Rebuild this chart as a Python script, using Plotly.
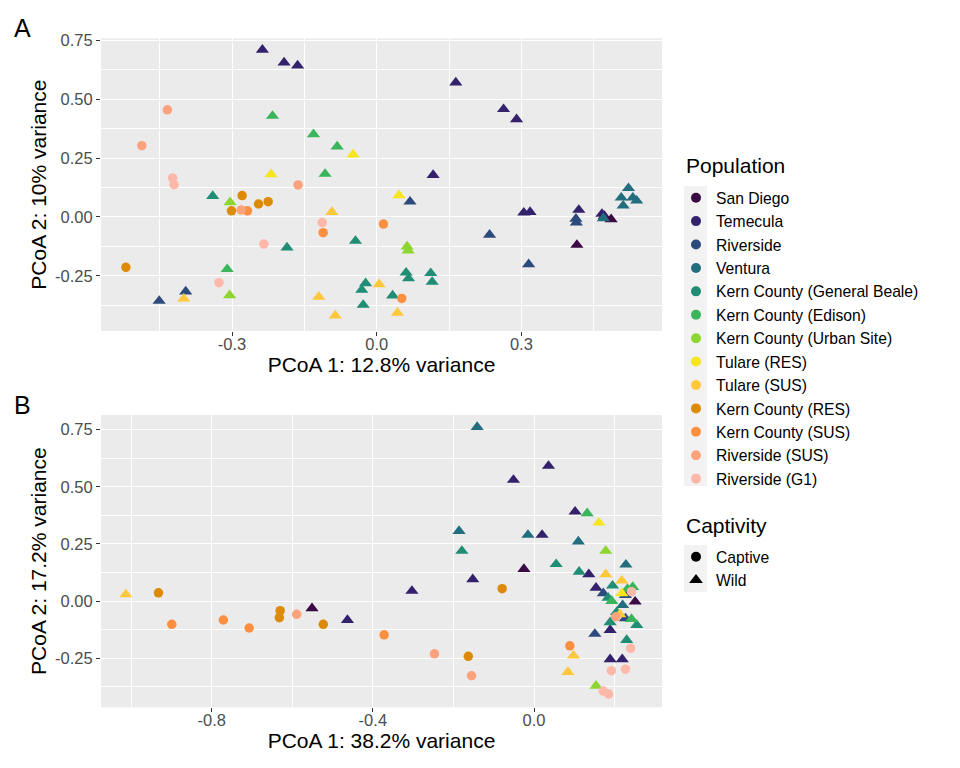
import plotly.graph_objects as go

# population order as in the legend (first 9 wild, last 4 captive)
populations = [
    "San Diego", "Temecula", "Riverside", "Ventura",
    "Kern County (General Beale)", "Kern County (Edison)",
    "Kern County (Urban Site)", "Tulare (RES)", "Tulare (SUS)",
    "Kern County (RES)", "Kern County (SUS)", "Riverside (SUS)",
    "Riverside (G1)",
]
captivity = ["Wild", "Wild", "Wild", "Wild", "Wild", "Wild", "Wild", "Wild", "Wild",
             "Captive", "Captive", "Captive", "Captive"]

# panel A: PCoA 1 (12.8%) vs PCoA 2 (10%), population index per point
a_group = [0, 0, 0,
           1, 1, 1, 1, 1, 1, 1, 1, 1, 1, 1,
           2, 2, 2, 2, 2, 2, 2,
           3, 3, 3, 3, 3, 3,
           4, 4, 4, 4, 4, 4, 4, 4, 4, 4, 4,
           5, 5, 5, 5, 5,
           6, 6, 6, 6,
           7, 7, 7,
           8, 8, 8, 8, 8, 8,
           9, 9, 9, 9, 9,
           10, 10, 10, 10,
           11, 11, 11, 11,
           12, 12, 12, 12, 12]
a_pc1 = [0.415, 0.472, 0.486,
         -0.237, -0.192, -0.164, 0.164, 0.263, 0.290, 0.117, 0.305, 0.318, 0.419, 0.467,
         0.069, 0.234, 0.315, 0.413, 0.414, -0.396, -0.451,
         0.470, 0.522, 0.507, 0.531, 0.539, 0.511,
         -0.340, -0.044, -0.186, -0.023, -0.031, -0.028, 0.033, 0.061, 0.066, 0.112, 0.115,
         -0.216, -0.131, -0.082, -0.107, -0.310,
         -0.304, -0.305, 0.063, 0.065,
         -0.049, -0.219, 0.046,
         -0.093, -0.400, 0.005, -0.120, -0.086, 0.043,
         -0.279, -0.301, -0.245, -0.225, -0.520,
         0.014, -0.111, -0.268, 0.052,
         -0.434, -0.487, -0.163, -0.281,
         -0.423, -0.420, -0.113, -0.234, -0.327]
a_pc2 = [-0.119, 0.004, -0.010,
         0.710, 0.656, 0.643, 0.571, 0.458, 0.415, 0.178, 0.018, 0.021, 0.030, 0.013,
         0.065, -0.076, -0.201, -0.008, -0.024, -0.317, -0.357,
         -0.006, 0.122, 0.082, 0.082, 0.069, 0.048,
         0.089, -0.102, -0.130, -0.282, -0.310, -0.374, -0.334, -0.237, -0.261, -0.239, -0.276,
         0.429, 0.351, 0.299, 0.183, -0.222,
         0.062, -0.333, -0.126, -0.143,
         0.265, 0.181, 0.092,
         0.021, -0.347, -0.286, -0.339, -0.419, -0.407,
         0.091, 0.026, 0.055, 0.065, -0.214,
         -0.030, -0.067, 0.026, -0.346,
         0.455, 0.303, 0.136, 0.030,
         0.166, 0.137, -0.024, -0.115, -0.279]

# panel B: PCoA 1 (38.2%) vs PCoA 2 (17.2%)
b_group = [0, 0, 0,
           1, 1, 1, 1, 1, 1, 1, 1, 1, 1, 1, 1,
           2, 2, 2, 2,
           3, 3, 3, 3, 3, 3,
           4, 4, 4, 4, 4, 4, 4, 4, 4,
           5, 5, 5, 5, 5,
           6, 6,
           7, 7,
           8, 8, 8, 8, 8, 8,
           9, 9, 9, 9, 9, 9,
           10, 10, 10, 10, 10,
           11, 11, 11, 11,
           12, 12, 12, 12, 12, 12]
b_pc1 = [-0.551, -0.025, 0.251,
         0.036, -0.051, 0.102, 0.020, -0.152, -0.303, -0.463, 0.136, 0.154, 0.189, 0.189, 0.219,
         0.172, 0.227, 0.227, 0.151,
         -0.141, -0.186, -0.015, 0.110, 0.228, 0.220,
         -0.179, 0.055, 0.112, 0.195, 0.184, 0.205, 0.189, 0.255, 0.230,
         0.132, 0.245, 0.232, 0.193, 0.242,
         0.178, 0.154,
         0.161, 0.218,
         -1.013, 0.178, 0.218, 0.213, 0.098, 0.084,
         -0.932, -0.630, -0.632, -0.523, -0.079, -0.163,
         -0.899, -0.771, -0.707, -0.372, 0.089,
         -0.589, -0.247, -0.155, 0.203,
         0.242, 0.240, 0.192, 0.227, 0.172, 0.185]
b_pc2 = [-0.032, 0.140, -0.003,
         0.591, 0.530, 0.391, 0.289, 0.095, 0.044, -0.083, 0.117, 0.058, -0.127, -0.255, -0.255,
         0.034, 0.026, -0.076, -0.144,
         0.761, 0.306, 0.289, 0.260, 0.159, -0.018,
         0.219, 0.161, 0.128, 0.067, 0.014, -0.049, -0.093, -0.105, -0.171,
         0.384, 0.061, 0.053, 0.000, -0.079,
         0.219, -0.371,
         0.343, 0.034,
         0.029, 0.117, 0.089, -0.058, -0.239, -0.311,
         0.036, -0.042, -0.073, -0.102, 0.054, -0.242,
         -0.102, -0.083, -0.118, -0.148, -0.196,
         -0.058, -0.231, -0.327, -0.069,
         0.041, -0.207, -0.305, -0.298, -0.394, -0.407]

# tick labels
y_ticks = [-0.25, 0.0, 0.25, 0.5, 0.75]
y_ticktext = ["-0.25", "0.00", "0.25", "0.50", "0.75"]
a_x_ticks = [-0.3, 0.0, 0.3]
a_x_ticktext = ["-0.3", "0.0", "0.3"]
b_x_ticks = [-0.8, -0.4, 0.0]
b_x_ticktext = ["-0.8", "-0.4", "0.0"]

palette = ["#3B0944", "#33226B", "#2C4A7C", "#236E7E", "#1F8E74", "#3BB55B",
           "#8CD62F", "#F7E51E", "#FDC83C", "#DD8A07", "#FC9040", "#FCA27C",
           "#FDB8AA"]
shape_of = {"Captive": "circle", "Wild": "triangle-up"}
size_of = {"Captive": 9.5, "Wild": 11.5}

FONT = "Liberation Sans, Arial, sans-serif"
# the page body adds an 8px margin, so the figure is drawn 16px smaller
PAD = 8
W, H = 960 - 2 * PAD, 768 - 2 * PAD


def px_x(p):
    # screen pixel -> paper fraction
    return (p - PAD) / W


def px_y(p):
    return 1 - (p - PAD) / H


fig = go.Figure()

# one trace per population and panel
for panel, groups, xs, ys in [("A", a_group, a_pc1, a_pc2), ("B", b_group, b_pc1, b_pc2)]:
    for i, pop in enumerate(populations):
        gx = [x for g, x in zip(groups, xs) if g == i]
        gy = [y for g, y in zip(groups, ys) if g == i]
        fig.add_trace(go.Scatter(
            x=gx, y=gy, mode="markers",
            xaxis="x" if panel == "A" else "x2",
            yaxis="y" if panel == "A" else "y2",
            marker=dict(color=palette[i], symbol=shape_of[captivity[i]],
                        size=size_of[captivity[i]], line=dict(width=0)),
            name=pop, showlegend=False, hoverinfo="skip",
        ))

# legend entries (colour legend and shape legend)
for i, pop in enumerate(populations):
    fig.add_trace(go.Scatter(
        x=[None], y=[None], mode="markers", name=pop, legend="legend",
        marker=dict(color=palette[i], symbol="circle", size=10),
    ))
for cap in ["Captive", "Wild"]:
    fig.add_trace(go.Scatter(
        x=[None], y=[None], mode="markers", name=cap, legend="legend2",
        marker=dict(color="black", symbol=shape_of[cap], size=10 if cap == "Captive" else 12),
    ))

axis_common = dict(
    showgrid=True, gridcolor="white", gridwidth=1.4,
    zeroline=False, showline=False,
    ticks="outside", ticklen=4, tickwidth=1.1, tickcolor="#333333",
    tickfont=dict(size=16.5, color="#4D4D4D", family=FONT),
    tickmode="array", automargin=False,
)
minor_y = dict(tickvals=[-0.375, -0.125, 0.125, 0.375, 0.625], showgrid=True,
               gridcolor="white", gridwidth=0.7, ticks="")

fig.update_layout(
    width=W, height=H,
    margin=dict(l=0, r=0, t=0, b=0),
    paper_bgcolor="white", plot_bgcolor="#EBEBEB",
    font=dict(family=FONT, color="black"),
    xaxis=dict(axis_common, domain=[px_x(101), px_x(662)], anchor="y",
               range=[-0.5716, 0.5915], tickvals=a_x_ticks, ticktext=a_x_ticktext,
               ticklabelstandoff=-6,
               minor=dict(tickvals=[-0.45, -0.15, 0.15, 0.45], showgrid=True,
                          gridcolor="white", gridwidth=0.7, ticks=""),
               title=dict(text="PCoA 1: 12.8% variance", font=dict(size=21), standoff=5)),
    yaxis=dict(axis_common, domain=[px_y(331), px_y(38.3)], anchor="x",
               range=[-0.4845, 0.759], tickvals=y_ticks, ticktext=y_ticktext,
               minor=minor_y,
               title=dict(text="PCoA 2: 10% variance", font=dict(size=21), standoff=2)),
    xaxis2=dict(axis_common, domain=[px_x(101), px_x(662)], anchor="y2",
                range=[-1.0747, 0.3177], tickvals=b_x_ticks, ticktext=b_x_ticktext,
                ticklabelstandoff=-6,
                minor=dict(tickvals=[-1.0, -0.6, -0.2, 0.2], showgrid=True,
                           gridcolor="white", gridwidth=0.7, ticks=""),
                title=dict(text="PCoA 1: 38.2% variance", font=dict(size=21), standoff=5)),
    yaxis2=dict(axis_common, domain=[px_y(707.3), px_y(415)], anchor="x2",
                range=[-0.465, 0.814], tickvals=y_ticks, ticktext=y_ticktext,
                minor=minor_y,
                title=dict(text="PCoA 2: 17.2% variance", font=dict(size=21), standoff=2)),
    legend=dict(
        x=px_x(676), xanchor="left", y=px_y(181), yanchor="top",
        font=dict(size=15.7), bgcolor="rgba(0,0,0,0)", itemclick=False,
    ),
    legend2=dict(
        x=px_x(676), xanchor="left", y=px_y(540), yanchor="top",
        font=dict(size=15.7), bgcolor="rgba(0,0,0,0)", itemclick=False,
    ),
    showlegend=True,
)

# legend titles
fig.add_annotation(text="Population", x=px_x(684), y=px_y(165), xref="paper", yref="paper",
                   xanchor="left", yanchor="middle", showarrow=False, font=dict(size=21))
fig.add_annotation(text="Captivity", x=px_x(684), y=px_y(525), xref="paper", yref="paper",
                   xanchor="left", yanchor="middle", showarrow=False, font=dict(size=21))

# grey key backgrounds behind legend symbols
fig.add_shape(type="rect", xref="paper", yref="paper",
              x0=px_x(684), x1=px_x(707), y0=px_y(486), y1=px_y(186),
              fillcolor="#F2F2F2", line=dict(width=0), layer="below")
fig.add_shape(type="rect", xref="paper", yref="paper",
              x0=px_x(684), x1=px_x(707), y0=px_y(592), y1=px_y(545),
              fillcolor="#F2F2F2", line=dict(width=0), layer="below")

# panel tags
fig.add_annotation(text="A", x=px_x(22), y=px_y(28), xref="paper", yref="paper",
                   xanchor="center", yanchor="middle",
                   showarrow=False, font=dict(size=25, color="black"))
fig.add_annotation(text="B", x=px_x(22), y=px_y(405), xref="paper", yref="paper",
                   xanchor="center", yanchor="middle",
                   showarrow=False, font=dict(size=25, color="black"))

fig.write_html("out.html")
